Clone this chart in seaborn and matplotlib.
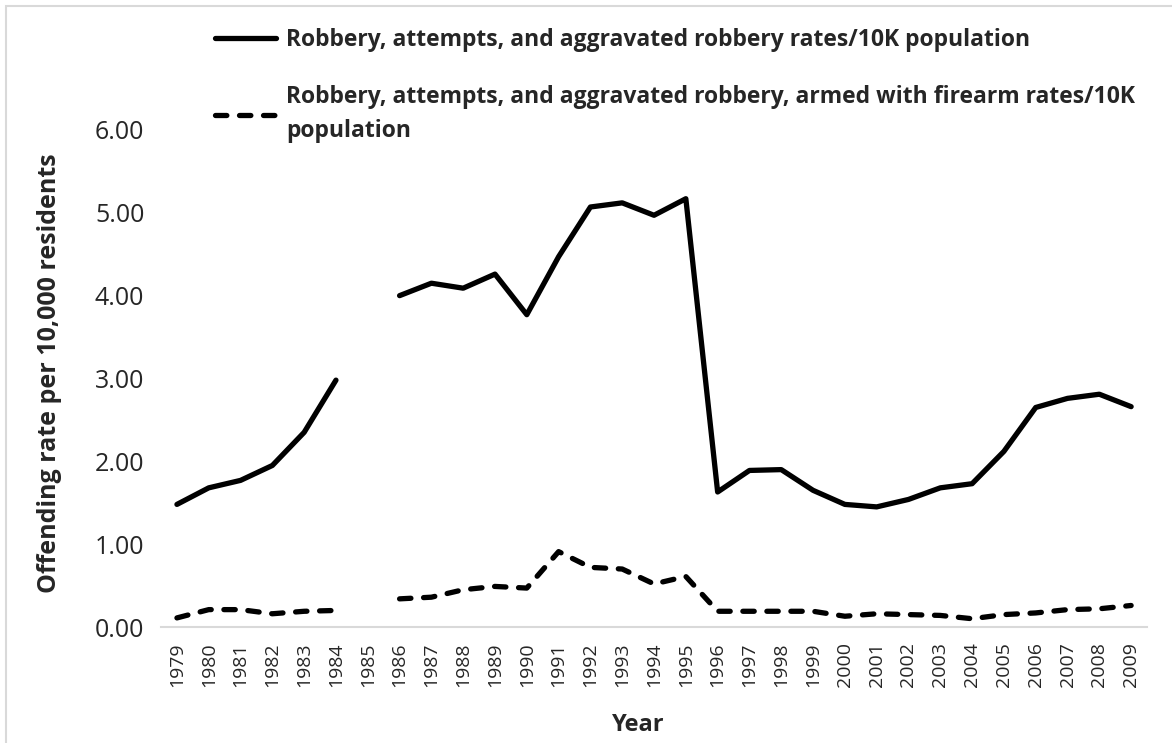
import matplotlib
matplotlib.use("Agg")
import matplotlib.pyplot as plt
from matplotlib.lines import Line2D
from matplotlib.patches import Rectangle
import numpy as np
import pandas as pd
import seaborn as sns

# years on the category axis (1985 has no data)
years = list(range(1979, 2010))

robbery = [1.48, 1.68, 1.77, 1.95, 2.35, 2.98, np.nan, 4.00, 4.15, 4.09,
           4.26, 3.77, 4.47, 5.07, 5.12, 4.97, 5.17, 1.63, 1.89, 1.90,
           1.65, 1.48, 1.45, 1.54, 1.68, 1.73, 2.12, 2.65, 2.76, 2.81, 2.66]
firearm = [0.11, 0.21, 0.21, 0.16, 0.19, 0.20, np.nan, 0.34, 0.36, 0.45,
           0.49, 0.47, 0.91, 0.72, 0.70, 0.52, 0.61, 0.19, 0.19, 0.19,
           0.19, 0.13, 0.16, 0.15, 0.14, 0.10, 0.15, 0.17, 0.21, 0.22, 0.26]

labels = ["Robbery, attempts, and aggravated robbery rates/10K population",
          "Robbery, attempts, and aggravated robbery, armed with firearm rates/10K\npopulation"]

# long table, with a segment id so the gap at 1985 stays open
rows = []
for name, vals in [("solid", robbery), ("dashed", firearm)]:
    seg = 0
    for y, v in zip(years, vals):
        if np.isnan(v):
            seg += 1
            continue
        rows.append({"year": y, "rate": v, "series": name, "segment": f"{name}{seg}"})
df = pd.DataFrame(rows)

sns.set_style("white")
plt.rcParams["font.family"] = ["Open Sans", "DejaVu Sans"]

LW = 3.8
DASH = (2.15, 2.4)

fig = plt.figure(figsize=(11.72, 7.43), dpi=100)
# thin grey chart border (top and left edges only show)
fig.add_artist(Rectangle((6 / 1172, -0.1), 1.2, 1.1 - 6 / 743,
                         transform=fig.transFigure, fill=False,
                         edgecolor="#d9d9d9", linewidth=1.5))
ax = fig.add_axes([0.1374, 0.1561, 0.8413, 0.669])

sns.lineplot(data=df, x="year", y="rate", style="series", units="segment",
             estimator=None, color="black", linewidth=LW,
             dashes={"solid": "", "dashed": DASH},
             dash_capstyle="round", solid_capstyle="round",
             legend=False, ax=ax)

ax.set_xlim(1978.5, 2009.5)
ax.set_ylim(0, 6)
ax.set_xticks(years)
ax.set_xticklabels([str(y) for y in years], rotation=90, fontsize=14)
ax.set_yticks(np.arange(0, 7, 1))
ax.set_yticklabels([f"{v:.2f}" for v in np.arange(0, 7, 1)], fontsize=18)
ax.tick_params(axis="x", length=0, pad=11)
ax.tick_params(axis="y", length=0, pad=12)

for s in ["top", "right", "left"]:
    ax.spines[s].set_visible(False)
ax.spines["bottom"].set_color("#d9d9d9")
ax.spines["bottom"].set_linewidth(1.5)

ax.set_xlabel("Year", fontsize=17, fontweight="bold")
ax.xaxis.set_label_coords(0.484, -0.172)
ax.set_ylabel("Offending rate per 10,000 residents", fontsize=18,
              fontweight="bold")
ax.yaxis.set_label_coords(-0.100, 0.51)

handles = [Line2D([], [], color="black", linewidth=LW, solid_capstyle="round"),
           Line2D([], [], color="black", linewidth=LW, linestyle=(0, DASH),
                  dash_capstyle="round")]
leg = fig.legend(handles, labels, loc="upper left", bbox_to_anchor=(0.166, 0.99),
                 frameon=False, prop={"weight": "bold", "size": 16.5},
                 handlelength=2.65, handletextpad=0.45, labelspacing=1.45)
for t in leg.get_texts():
    t.set_linespacing(1.55)

fig.savefig("out.png", dpi=100)
